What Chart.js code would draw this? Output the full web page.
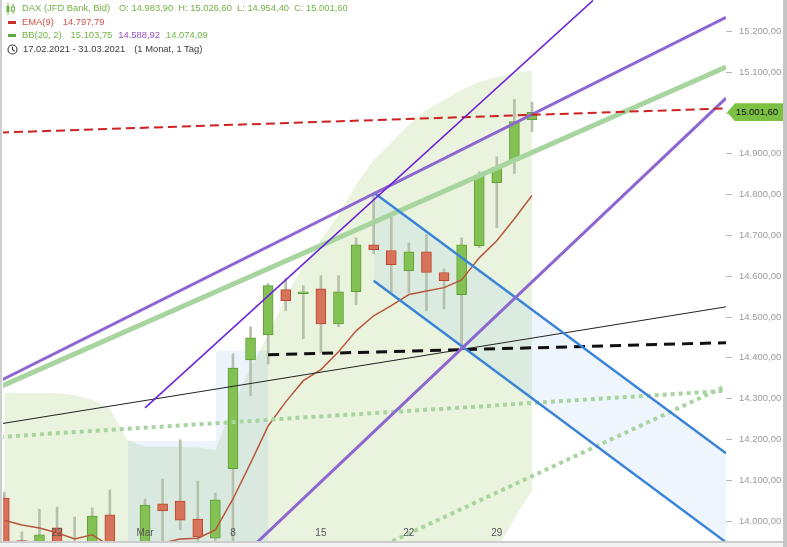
<!DOCTYPE html>
<html><head><meta charset="utf-8">
<script src="https://cdn.jsdelivr.net/npm/chart.js@4.4.0/dist/chart.umd.min.js"></script>
<style>
html,body{margin:0;padding:0;background:#fff;overflow:hidden;}
#wrap{position:relative;width:787px;height:547px;font-family:"Liberation Sans",Arial,sans-serif;overflow:hidden;}
canvas{position:absolute;left:0;top:0;}
.t{position:absolute;font-size:9.4px;line-height:12px;white-space:nowrap;}
.t span{margin-left:9px;}
.t span.n{margin-left:5px;}
.g{color:#6fb443;} .r{color:#cf5447;} .p{color:#9550c4;} .k{color:#3a3a3a;}
#price{position:absolute;left:727px;width:56px;height:18px;background:#7cc143;color:#111;font-size:9.5px;line-height:18px;text-align:center;padding-left:4px;box-sizing:border-box;clip-path:polygon(0 50%,8px 0,100% 0,100% 100%,8px 100%);}
</style></head><body>
<div id="wrap">
<canvas id="c" width="787" height="547"></canvas>
<div style="position:absolute;left:0;top:0;width:2px;height:541px;background:#cfcfcf"></div>
<div style="position:absolute;left:0;top:541px;width:787px;height:2px;background:#cdcdcd"></div>
<div style="position:absolute;left:0;top:543px;width:787px;height:4px;background:#f3f3f3"></div>
<div style="position:absolute;left:783px;top:0;width:4px;height:547px;background:#c6c6c6"></div>

<svg style="position:absolute;left:5px;top:3px" width="11" height="12" viewBox="0 0 11 12">
 <line x1="3" y1="0" x2="3" y2="12" stroke="#6fb443" stroke-width="1"/><rect x="1.5" y="3" width="3" height="6" fill="#6fb443"/>
 <line x1="8" y1="1" x2="8" y2="11" stroke="#6fb443" stroke-width="1"/><rect x="6.5" y="4" width="3" height="4" fill="#fff" stroke="#6fb443" stroke-width="1"/>
</svg>
<div class="t g" style="left:22px;top:2px">DAX (JFD Bank, Bid)<span>O: 14.983,90</span><span class="n">H: 15.026,60</span><span class="n">L: 14.954,40</span><span class="n">C: 15.001,60</span></div>

<div style="position:absolute;left:8px;top:21px;width:8px;height:3px;background:#c9302c"></div>
<div class="t r" style="left:22px;top:16px">EMA(9)<span>14.797,79</span></div>

<div style="position:absolute;left:8px;top:34px;width:8px;height:3px;background:#5cae3c"></div>
<div class="t g" style="left:22px;top:29px">BB(20, 2)<span>15.103,75</span><span class="p" style="margin-left:6px">14.588,92</span><span style="margin-left:6px">14.074,09</span></div>

<svg style="position:absolute;left:7px;top:44px" width="11" height="11" viewBox="0 0 11 11">
 <circle cx="5.5" cy="5.5" r="4.5" fill="none" stroke="#3a3a3a" stroke-width="1.1"/>
 <polyline points="5.5,2.8 5.5,5.7 7.6,7.2" fill="none" stroke="#3a3a3a" stroke-width="1.1"/>
</svg>
<div class="t k" style="left:23px;top:43px">17.02.2021 - 31.03.2021<span>(1 Monat, 1 Tag)</span></div>

<div id="price"></div>
</div>
<script>
// ---- data ----
const dates = ['17.02','18.02','19.02','22.02','23.02','24.02','25.02','26.02',
 '01.03','02.03','03.03','04.03','05.03','08.03','09.03','10.03','11.03','12.03',
 '15.03','16.03','17.03','18.03','19.03','22.03','23.03','24.03','25.03','26.03',
 '29.03','30.03','31.03'];
const opens  = [14056,13952,13900,13983,13900,13880,14015,13870,13850,14042,14049,14005,13958,14128,14395,14456,14567,14557,14569,14483,14562,14677,14663,14613,14660,14609,14555,14675,14829,14883,14983.9];
const highs  = [14071,13973,14029,14034,14010,14032,14076,13940,14054,14103,14199,14098,14069,14410,14476,14582,14594,14577,14601,14601,14694,14805,14744,14682,14702,14618,14694,14856,14893,15033,15026.6];
const lows   = [13900,13900,13880,13880,13850,13850,13850,13750,13830,13930,13978,13930,13930,13930,14307,14385,14515,14447,14412,14476,14530,14655,14560,14560,14515,14520,14425,14670,14719,14852,14954.4];
const closes = [13920,13940,13966,13900,13940,14012,13880,13790,14039,14025,14002,13961,14052,14375,14449,14577,14540,14562,14483,14562,14677,14665,14628,14660,14609,14589,14677,14847,14866,14979,15001.6];
const ema9   = [14002,13990,13983,13971,13956,13966,13939,13902,13927,13946,13956,13958,13978,14054,14142,14233,14292,14344,14371,14415,14466,14503,14528,14555,14564,14572,14591,14645,14687,14741,14797.79];
const bbUpper= [14314,14314,14314,14314,14309,14297,14276,14199,14182,14182,14182,14180,14174,14285,14375,14456,14549,14625,14689,14750,14824,14885,14927,14971,15008,15032,15057,15076,15088,15098,15103.75];
const bbLower= [13880,13870,13860,13850,13845,13840,13830,13780,13760,13750,13745,13740,13735,13730,13728,13725,13722,13720,13720,13722,13730,13745,13770,13800,13830,13860,13880,13900,13931,14006,14074.09];
const xTickPos    = [3, 8, 13, 18, 23, 28];
const xTickLabels = ['22', 'Mar', '8', '15', '22', '29'];
// drawings: [dayIndex, price]
const purpleUpper = [[-0.244,14343.6],[41.03,15234.4]];
const greenThick  = [[-0.244,14328.8],[41.03,15112.6]];
const violetThin  = [[8.0,14277.3],[33.47,15276]];
const purpleLower = [[13.97,13931.3],[41.03,15036.3]];
const redDashed   = [[-0.244,14952.1],[41.03,15011.3]];
const blackDashed = [[15,14407.4],[41.03,14437]];
const blackThin   = [[-0.244,14238],[41.03,14524.9]];
const greenDot1   = [[-0.244,14206.1],[41.03,14319.5]];
const greenDot2   = [[21.24,13934],[41.03,14331]];
const blueUpper   = [[21,14805],[41.03,14166]];
const blueLower   = [[21,14589],[41.03,13948]];
const rangeBox    = [[7.03,14196],[12.04,14196],[12.04,14417],[15.0,14417]];

// ---- helpers ----
const P = a => a.map(p => ({x:p[0], y:p[1]}));
const idx = dates.map((d,i) => i);
const fmt = v => { const s = Number(v).toFixed(2).split('.'); return s[0].replace(/\B(?=(\d{3})+(?!\d))/g,'.') + ',' + s[1]; };
const up = idx.map(i => closes[i] >= opens[i]);
const NONE = 'rgba(0,0,0,0)';
const line = (label, pts, color, width, dash, order) => ({type:'line', label, data:P(pts), borderColor:color, borderWidth:width, borderDash:dash||[], borderCapStyle:'butt', pointRadius:0, fill:false, order, clip:0});

const datasets = [
 {type:'line', label:'BB upper', data: idx.map(i=>({x:i,y:bbUpper[i]})), borderColor:NONE, borderWidth:0, pointRadius:0, fill:'+1', backgroundColor:'rgba(201,226,170,0.4)', order:100},
 {type:'line', label:'BB lower', data: idx.map(i=>({x:i,y:bbLower[i]})), borderColor:NONE, borderWidth:0, pointRadius:0, fill:false, order:101},
 {type:'line', label:'range', data:P(rangeBox), borderColor:NONE, borderWidth:0, pointRadius:0, fill:'start', backgroundColor:'rgba(150,190,235,0.18)', order:95},
 {type:'line', label:'channel top', data:P(blueUpper), borderColor:NONE, borderWidth:0, pointRadius:0, fill:'+1', backgroundColor:'rgba(150,190,235,0.16)', order:90},
 {type:'line', label:'channel bottom', data:P(blueLower), borderColor:NONE, borderWidth:0, pointRadius:0, fill:false, order:91},
 {type:'bar', label:'wicks', data: idx.map(i=>({x:i,y:[lows[i],highs[i]]})), backgroundColor:'#b7c0ad', barThickness:2, grouped:false, order:60},
 {type:'bar', label:'bodies', data: idx.map(i=>({x:i,y:[opens[i],closes[i]]})), backgroundColor: idx.map(i=>up[i]?'#84c155':'#d7735a'), borderColor: idx.map(i=>up[i]?'#5f9e35':'#b9472f'), borderWidth:1, borderSkipped:false, barThickness:10, grouped:false, order:50},
 {type:'line', label:'EMA(9)', data: idx.map(i=>({x:i,y:ema9[i]})), borderColor:'#b8573b', borderWidth:1.5, pointRadius:0, fill:false, order:40},
 line('green dot 1', greenDot1, '#a8d59f', 4, [4,4], 30),
 line('green dot 2', greenDot2, '#a8d59f', 4, [4,4], 30),
 line('black thin', blackThin, '#222', 1, [], 25),
 line('black dashed', blackDashed, '#111', 3, [11,7], 24),
 line('green thick', greenThick, '#a8d59f', 5, [], 22),
 line('blue upper', blueUpper, '#3a84d8', 2.5, [], 20),
 line('blue lower', blueLower, '#3a84d8', 2.5, [], 20),
 line('purple upper', purpleUpper, '#8d66cf', 3, [], 15),
 line('purple lower', purpleLower, '#8d66cf', 3, [], 15),
 line('red dashed', redDashed, '#cc2222', 2, [9,5], 12),
 line('violet thin', violetThin, '#6a1fd6', 1.5, [], 10)
];

const priceLabel = {
  id:'priceLabel',
  afterRender(chart){
    const y = chart.scales.y.getPixelForValue(closes[closes.length-1]);
    const el = document.getElementById('price');
    el.textContent = fmt(closes[closes.length-1]);
    el.style.top = (y - 9) + 'px';
  }
};

new Chart(document.getElementById('c'), {
  type:'line',
  data:{datasets},
  plugins:[priceLabel],
  options:{
    responsive:false, animation:false, events:[],
    layout:{padding:{left:3, top:0, right:0, bottom:0}},
    plugins:{legend:{display:false}, tooltip:{enabled:false}},
    scales:{
      x:{type:'linear', min:-0.074, max:41.03, position:'bottom', offset:false,
        grid:{display:true, drawOnChartArea:false, drawTicks:false}, border:{display:false},
        ticks:{autoSkip:false, maxRotation:0, mirror:true, padding:2, z:1, color:'#555',
          font:{family:'"Liberation Sans", Arial, sans-serif', size:10},
          callback:(v,i)=>xTickLabels[i]},
        afterBuildTicks:s=>{ s.ticks = xTickPos.map(v=>({value:v})); },
        afterFit:s=>{ s.height = 6; s.paddingLeft = 0; s.paddingRight = 0; }
      },
      y:{type:'linear', position:'right', min:13951, max:15277,
        grid:{display:true, drawOnChartArea:false, drawTicks:true, tickLength:6, tickColor:'#b5b5b5'},
        border:{display:false},
        ticks:{stepSize:100, includeBounds:false, padding:7, color:'#9a9a9a',
          font:{family:'"Liberation Sans", Arial, sans-serif', size:9.5}, callback:v=>fmt(v)},
        afterFit:s=>{ s.width = 61; s.paddingTop = 0; s.paddingBottom = 0; }
      }
    }
  }
});
</script>
</body></html>
